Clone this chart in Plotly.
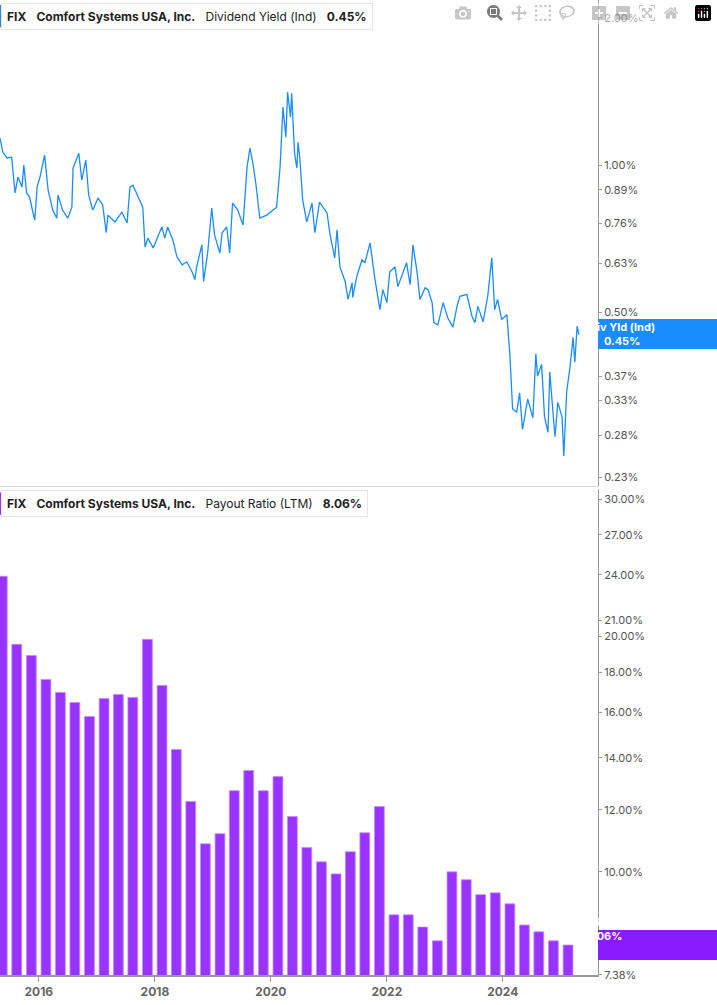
import plotly.graph_objects as go
from plotly.subplots import make_subplots
import pandas as pd

# Dividend yield (%), traced points (decimal year, value)
yld_t = [2015.33,2015.38,2015.45,2015.53,2015.59,2015.64,2015.71,2015.74,2015.79,2015.84,2015.90,2015.93,2015.97,
 2016.02,2016.10,2016.16,2016.24,2016.31,2016.33,2016.41,2016.50,2016.57,2016.59,2016.69,2016.74,2016.81,2016.86,2016.93,
 2017.02,2017.10,2017.16,2017.19,2017.31,2017.43,2017.52,2017.57,2017.62,2017.71,2017.79,2017.83,2017.88,2017.97,
 2018.03,2018.12,2018.17,2018.22,2018.31,2018.38,2018.47,2018.55,2018.64,2018.69,2018.72,2018.81,2018.84,2018.91,2018.98,
 2019.03,2019.12,2019.16,2019.24,2019.29,2019.34,2019.43,2019.52,2019.59,2019.64,2019.69,2019.74,2019.81,2019.93,
 2020.03,2020.10,2020.16,2020.21,2020.26,2020.29,2020.34,2020.36,2020.41,2020.45,2020.47,2020.50,2020.55,2020.62,2020.71,2020.76,2020.84,2020.97,
 2021.02,2021.10,2021.14,2021.19,2021.28,2021.33,2021.40,2021.41,2021.48,2021.57,2021.62,2021.71,2021.79,2021.88,2021.93,
 2022.00,2022.05,2022.14,2022.19,2022.34,2022.40,2022.45,2022.52,2022.57,2022.66,2022.71,2022.78,2022.81,2022.88,2022.97,
 2023.05,2023.14,2023.21,2023.26,2023.38,2023.47,2023.52,2023.57,2023.66,2023.74,2023.81,2023.86,2023.91,2023.98,
 2024.07,2024.12,2024.17,2024.24,2024.29,2024.34,2024.43,2024.52,2024.57,2024.60,2024.67,2024.72,2024.78,2024.81,2024.90,2024.95,
 2025.02,2025.05,2025.10,2025.16,2025.21,2025.24,2025.28,2025.31]
yld_v = [1.136,1.062,1.034,1.038,0.877,0.945,0.902,1.000,0.877,0.860,0.798,0.772,0.902,
 0.945,1.048,0.889,0.809,0.779,0.868,0.809,0.779,0.820,0.986,1.057,0.932,1.024,0.868,0.809,
 0.856,0.828,0.727,0.790,0.765,0.801,0.761,0.902,0.910,0.860,0.820,0.680,0.709,0.677,
 0.703,0.747,0.709,0.747,0.703,0.649,0.625,0.634,0.605,0.583,0.619,0.687,0.578,0.661,0.817,
 0.720,0.661,0.727,0.747,0.661,0.836,0.809,0.754,0.991,1.083,1.010,0.919,0.779,0.790,
 0.809,0.820,0.991,1.314,1.141,1.410,1.253,1.403,1.057,0.986,1.114,1.034,0.848,0.765,0.836,0.727,0.840,0.798,
 0.720,0.646,0.737,0.619,0.578,0.531,0.575,0.536,0.591,0.640,0.631,0.693,0.588,0.506,0.556,
 0.523,0.605,0.619,0.564,0.631,0.569,0.687,0.605,0.531,0.561,0.556,0.523,0.476,0.471,0.523,
 0.487,0.466,0.514,0.539,0.544,0.490,0.476,0.514,0.478,0.539,0.646,0.506,0.531,0.483,
 0.494,0.414,0.317,0.312,0.342,0.288,0.332,0.304,0.411,0.370,0.391,0.305,0.284,0.377,0.278,0.327,
 0.305,0.254,0.344,0.388,0.444,0.395,0.468,0.450]

# Payout ratio (LTM, %), quarterly 2015Q2 .. 2025Q1
payout_q = pd.period_range("2015Q2", "2025Q1", freq="Q")
payout_v = [23.9,19.55,18.92,17.63,16.97,16.47,15.81,16.67,16.87,16.72,19.84,17.32,14.34,12.30,10.86,11.19,
 12.70,13.48,12.70,13.24,11.77,10.74,10.30,9.94,10.61,11.22,12.12,8.81,8.81,8.50,8.16,10.00,9.77,9.35,9.40,
 9.10,8.55,8.38,8.16,8.06]

yld_ticks = [0.23,0.28,0.33,0.37,0.50,0.63,0.76,0.89,1.00,2.00]
pay_ticks = [7.38,10,12,14,16,18,20,21,24,27,30]
year_ticks = [2016,2018,2020,2022,2024]

def dy(t):
    y = int(t)
    return pd.Timestamp(year=y, month=1, day=1) + pd.Timedelta(days=(t - y) * 365.25)

yld_d = [dy(t) for t in yld_t]
pay_d = [p.start_time + pd.Timedelta(days=45) for p in payout_q]

BLUE = "#1a8cff"; PURP = "#9933ff"; GRAY = "#555555"
fig = make_subplots(rows=2, cols=1, shared_xaxes=True, vertical_spacing=0.003)
fig.add_trace(go.Scatter(x=yld_d, y=yld_v, mode="lines", line=dict(color=BLUE, width=1.3)), 1, 1)
fig.add_trace(go.Bar(x=pay_d, y=payout_v, marker=dict(color=PURP, line=dict(color="#c48cff", width=0.8)),
                     width=0.68 * 91 * 86400000), 2, 1)

xr = [dy(2015.33), dy(2025.64)]
fig.update_xaxes(range=xr, showgrid=False, zeroline=False)
fig.update_xaxes(row=1, col=1, showticklabels=False, showline=True, linecolor="#dddddd", linewidth=1)
fig.update_xaxes(row=2, col=1, tickvals=[pd.Timestamp(f"{y}-01-01") for y in year_ticks],
                 ticktext=[f"<b>{y}</b>" for y in year_ticks], ticks="outside", ticklen=5, tickcolor="#999",
                 showline=True, linecolor="#999", linewidth=2, tickfont=dict(size=12, color="#666"))
fig.update_yaxes(row=1, col=1, type="log", range=[-0.6567, 0.3378], side="right", tickvals=yld_ticks,
                 ticktext=[f"{v:.2f}%" for v in yld_ticks], showgrid=False, showline=True, linecolor="#999",
                 ticks="outside", ticklen=3, tickcolor="#999", tickfont=dict(size=11, color=GRAY))
fig.update_yaxes(row=2, col=1, type="log", range=[0.868, 1.490], side="right", tickvals=pay_ticks,
                 ticktext=[f"{v:.2f}%" for v in pay_ticks], showgrid=False, showline=True, linecolor="#999",
                 ticks="outside", ticklen=3, tickcolor="#999", tickfont=dict(size=11, color=GRAY))

fig.update_layout(width=717, height=1005, margin=dict(l=0, r=119, t=0, b=30), showlegend=False,
                  plot_bgcolor="white", paper_bgcolor="white", bargap=0.3,
                  font=dict(family="Inter, Roboto, sans-serif"))

def legend(y, color, text):
    fig.add_annotation(xref="paper", yref="paper", x=0.002, y=y, xanchor="left", yanchor="top",
                       text=text, showarrow=False, bgcolor="white", bordercolor="#e6e6e6", borderwidth=1,
                       borderpad=5, font=dict(size=12, color="#222"), align="left")
    fig.add_shape(type="rect", xref="paper", yref="paper", x0=0.0, x1=0.006, y0=y - 0.025, y1=y - 0.002,
                  fillcolor=color, line_width=0)

legend(0.997, BLUE, "<b>FIX</b>   <b>Comfort Systems USA, Inc.</b>   Dividend Yield (Ind)   <b>0.45%</b>")
legend(0.497, PURP, "<b>FIX</b>   <b>Comfort Systems USA, Inc.</b>   Payout Ratio (LTM)   <b>8.06%</b>")

def tag(ypx0, ypx1, color, text):
    H = 975.0
    fig.add_shape(type="rect", xref="paper", yref="paper", x0=1.0, x1=717/598, y0=1 - ypx1 / H, y1=1 - ypx0 / H,
                  fillcolor=color, line_width=0, layer="above")
    fig.add_annotation(xref="paper", yref="paper", x=(1 + 717/598) / 2, y=1 - (ypx0 + ypx1) / 2 / H,
                       text=text, showarrow=False, font=dict(size=11, color="white"), align="center")

tag(319, 349, BLUE, "<b>Div Yld (Ind)<br>0.45%</b>")
tag(930, 960, "#8a1aff", "<b>Payout Ratio (LTM)<br>8.06%</b>")

fig.write_html("out.html", post_script="document.body.style.margin='0';document.body.style.overflow='hidden';document.documentElement.style.overflow='hidden';")
